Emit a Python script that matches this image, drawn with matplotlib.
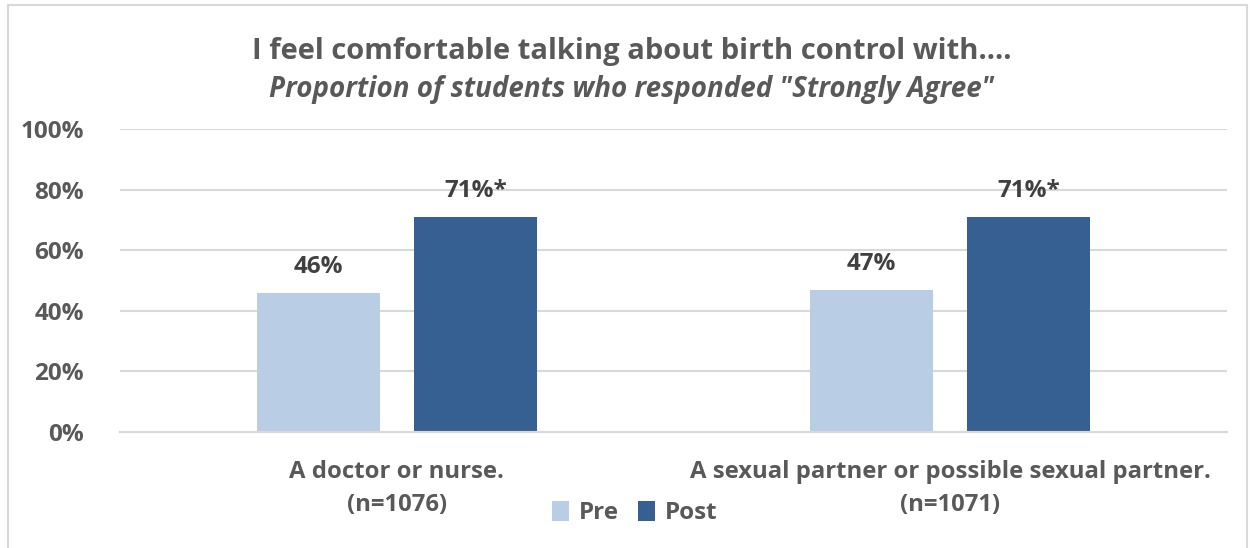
import matplotlib.pyplot as plt
from matplotlib.patches import Rectangle

plt.rcParams['font.family'] = ['Open Sans', 'DejaVu Sans']

categories = ['A doctor or nurse.', 'A sexual partner or possible sexual partner.']
n_labels = ['(n=1076)', '(n=1071)']
pre = [46, 47]
post = [71, 71]
pre_labels = ['46%', '47%']
post_labels = ['71%*', '71%*']
ticks = [0, 20, 40, 60, 80, 100]

c_pre = '#B9CDE5'
c_post = '#366092'
c_text = '#595959'

fig = plt.figure(figsize=(12.5, 5.48), dpi=100)
ax = fig.add_axes([0.096, 0.2117, 0.8856, 0.5529])

x = [0, 1]
w = 0.222
off = 0.142
b1 = ax.bar([i - off for i in x], pre, w, color=c_pre, label='Pre', zorder=2)
b2 = ax.bar([i + off for i in x], post, w, color=c_post, label='Post', zorder=2)

for rect, lab in zip(b1, pre_labels):
    ax.text(rect.get_x() + rect.get_width() / 2, rect.get_height() + 4.5, lab,
            ha='center', va='bottom', fontsize=17.5, fontweight='bold', color='#404040')
for rect, lab in zip(b2, post_labels):
    ax.text(rect.get_x() + rect.get_width() / 2, rect.get_height() + 4.5, lab,
            ha='center', va='bottom', fontsize=17.5, fontweight='bold', color='#404040')

ax.set_xlim(-0.5, 1.5)
ax.set_ylim(0, 100)
ax.set_yticks(ticks)
ax.set_yticklabels([str(t) + '%' for t in ticks], fontsize=17.5, fontweight='bold', color=c_text)
ax.set_xticks(x)
ax.set_xticklabels(categories, fontsize=17.2, fontweight='bold', color=c_text)
ax.tick_params(axis='both', length=0)
ax.tick_params(axis='x', pad=20)
ax.tick_params(axis='y', pad=26)
for i, lab in zip(x, n_labels):
    ax.annotate(lab, xy=(i, 0), xycoords=('data', 'axes fraction'), xytext=(0, -52.5),
                textcoords='offset points', ha='center', va='center',
                fontsize=17.2, fontweight='bold', color=c_text)
ax.grid(axis='y', color='#D9D9D9', linewidth=1.5, zorder=0)
for s in ['top', 'right', 'left']:
    ax.spines[s].set_visible(False)
ax.spines['bottom'].set_color('#D9D9D9')
ax.spines['bottom'].set_linewidth(1.5)

leg = fig.legend(loc='center', bbox_to_anchor=(0.508, 0.064), ncol=2, frameon=False,
                 fontsize=17.5, handlelength=0.7, handleheight=0.9, handletextpad=0.4,
                 columnspacing=0.8)
for t in leg.get_texts():
    t.set_color(c_text)
    t.set_fontweight('bold')

fig.text(0.505, 0.906, 'I feel comfortable talking about birth control with....',
         ha='center', va='center', fontsize=21, fontweight='bold', color=c_text)
fig.text(0.505, 0.836, 'Proportion of students who responded "Strongly Agree"',
         ha='center', va='center', fontsize=20, fontweight='bold', style='italic', color=c_text)

fig.patches.append(Rectangle((0.0065, -0.01), 0.991, 1.0, transform=fig.transFigure,
                             fill=False, edgecolor='#D9D9D9', linewidth=1.5))

plt.savefig('out.png')
